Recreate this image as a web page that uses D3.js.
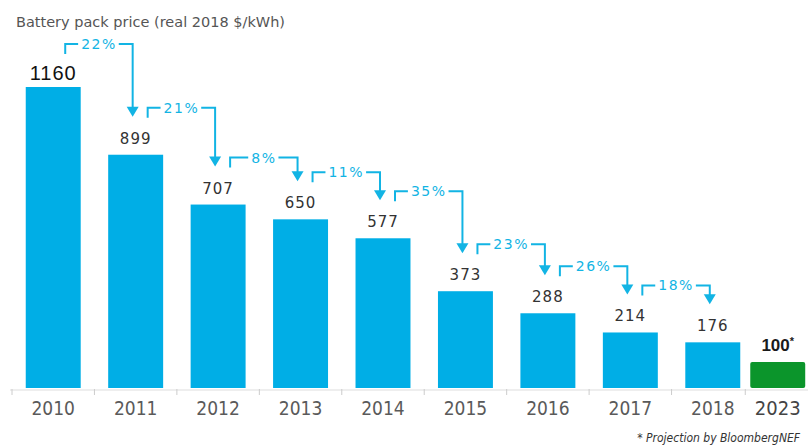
<!DOCTYPE html>
<html lang="en">
<head>
<meta charset="UTF-8">
<title>Battery pack price</title>
<script src="https://cdnjs.cloudflare.com/ajax/libs/d3/7.8.5/d3.min.js"></script>
<style>
    body { margin: 0; background: #fff; }
    svg { display: block; }
</style>
</head>
<body>
<svg id="chart" width="810" height="448"></svg>
<script>
    // data
    const years = ["2010", "2011", "2012", "2013", "2014", "2015", "2016", "2017", "2018"];
    const prices = [1160, 899, 707, 650, 577, 373, 288, 214, 176];
    const drops = ["22%", "21%", "8%", "11%", "35%", "23%", "26%", "18%"];
    const projYear = "2023";
    const projPrice = 100;

    const baseY = 388;
    const blue = "#00aee6", green = "#0b952b", cyan = "#12b4e4";

    const svg = d3.select("#chart");

    const x = d3.scaleBand()
        .domain(years)
        .range([12, 754])
        .paddingInner(1 / 3)
        .paddingOuter(1 / 6);
    const bw = x.bandwidth();
    const gap = 10;
    const xProj = x(years[years.length - 1]) + bw + gap;

    const y = d3.scaleLinear()
        .domain([0, 1160])
        .range([baseY, 87]);

    // label baseline above each bar (first one is bigger)
    const labelY = i => i === 0 ? y(prices[i]) - 7 : y(prices[i]) - 11;

    // title
    svg.append("text")
        .attr("x", 16).attr("y", 27)
        .attr("font-family", "DejaVu Sans").attr("font-size", 14.5)
        .attr("fill", "#555")
        .text("Battery pack price (real 2018 $/kWh)");

    // axis line + ticks between bars
    svg.append("line")
        .attr("x1", 10).attr("x2", 808)
        .attr("y1", baseY + 2).attr("y2", baseY + 2)
        .attr("stroke", "#ddd").attr("stroke-width", 1);
    const step = x.step();
    svg.append("g").selectAll("line")
        .data(years)
        .join("line")
        .attr("x1", d => x(d) - (step - bw) / 2)
        .attr("x2", d => x(d) - (step - bw) / 2)
        .attr("y1", baseY + 1).attr("y2", baseY + 7)
        .attr("stroke", "#ccc");
    svg.append("line")
        .attr("x1", xProj - gap / 2).attr("x2", xProj - gap / 2)
        .attr("y1", baseY + 1).attr("y2", baseY + 7)
        .attr("stroke", "#ccc");

    // bars
    svg.append("g").selectAll("rect")
        .data(years)
        .join("rect")
        .attr("x", d => x(d))
        .attr("y", (d, i) => y(prices[i]))
        .attr("width", bw)
        .attr("height", (d, i) => baseY - y(prices[i]))
        .attr("fill", blue);

    svg.append("rect")
        .attr("x", xProj).attr("y", y(projPrice))
        .attr("width", bw).attr("height", baseY - y(projPrice))
        .attr("rx", 2)
        .attr("fill", green);

    // year labels
    svg.append("g").selectAll("text")
        .data(years)
        .join("text")
        .attr("x", d => x(d) + bw / 2)
        .attr("y", baseY + 27)
        .attr("text-anchor", "middle")
        .attr("font-family", "DejaVu Sans Condensed, DejaVu Sans").attr("font-stretch", "condensed")
        .attr("font-size", 19)
        .attr("fill", "#5a5a5a")
        .text(d => d);
    svg.append("text")
        .attr("x", xProj + bw / 2).attr("y", baseY + 27)
        .attr("text-anchor", "middle")
        .attr("font-family", "DejaVu Sans Condensed, DejaVu Sans").attr("font-stretch", "condensed")
        .attr("font-size", 20)
        .attr("fill", "#444")
        .text(projYear);

    // value labels
    svg.append("g").selectAll("text")
        .data(years)
        .join("text")
        .attr("x", d => x(d) + bw / 2)
        .attr("y", (d, i) => labelY(i))
        .attr("text-anchor", "middle")
        .attr("font-family", (d, i) => i === 0 ? "Liberation Sans" : "DejaVu Sans")
        .attr("font-size", (d, i) => i === 0 ? 20 : 15)
        .attr("letter-spacing", 1)
        .attr("fill", (d, i) => i === 0 ? "#111" : "#333")
        .text((d, i) => prices[i]);

    const proj = svg.append("text")
        .attr("x", xProj + bw / 2).attr("y", y(projPrice) - 11)
        .attr("text-anchor", "middle")
        .attr("font-family", "Liberation Sans").attr("font-weight", "bold")
        .attr("font-size", 17)
        .attr("fill", "#1a1a1a");
    proj.append("tspan").text(projPrice);
    proj.append("tspan").attr("dy", -6).attr("font-size", 11).text("*");

    // drop annotations: bracket from bar i, arrow down onto bar i+1
    const ann = svg.append("g");
    drops.forEach((pct, i) => {
        const x0 = x(years[i]) + bw / 2 + 12;
        const x1 = x(years[i + 1]) + bw / 2 - 3;
        const yb = labelY(i) - 36;
        const tip = y(prices[i + 1]) - 38;

        const t = ann.append("text")
            .attr("x", (x0 + x1) / 2).attr("y", yb + 5)
            .attr("text-anchor", "middle")
            .attr("font-family", "DejaVu Sans").attr("font-size", 14)
            .attr("letter-spacing", 1.5)
            .attr("fill", cyan)
            .text(pct);
        const tw = t.node().getComputedTextLength();
        const tl = (x0 + x1) / 2 - tw / 2 - 3;
        const tr = (x0 + x1) / 2 + tw / 2 + 2;

        ann.append("path")
            .attr("d", `M${x0},${yb + 10}V${yb}H${tl}`)
            .attr("fill", "none").attr("stroke", cyan).attr("stroke-width", 2);
        ann.append("path")
            .attr("d", `M${tr},${yb}H${x1}V${tip - 8}`)
            .attr("fill", "none").attr("stroke", cyan).attr("stroke-width", 2);
        ann.append("path")
            .attr("d", `M${x1 - 6},${tip - 10}L${x1 + 6},${tip - 10}L${x1},${tip}Z`)
            .attr("fill", cyan);
    });

    // footnote
    svg.append("text")
        .attr("x", 800).attr("y", 442)
        .attr("text-anchor", "end")
        .attr("font-family", "DejaVu Sans Condensed, DejaVu Sans").attr("font-stretch", "condensed")
        .attr("font-style", "italic")
        .attr("font-size", 12)
        .attr("fill", "#333")
        .text("* Projection by BloombergNEF");
</script>
</body>
</html>
